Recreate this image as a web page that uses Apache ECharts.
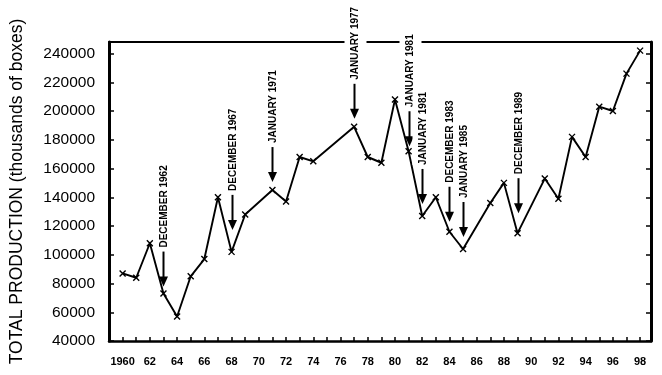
<!DOCTYPE html>
<html>
<head>
<meta charset="utf-8">
<script src="https://cdn.jsdelivr.net/npm/echarts@6/dist/echarts.min.js"></script>
<style>
  html, body { margin: 0; padding: 0; background: #fff; }
  #chart { width: 662px; height: 375px; }
</style>
</head>
<body>
<div id="chart"></div>
<script>
// ---- data ----
const years = [1960, 1961, 1962, 1963, 1964, 1965, 1966, 1967, 1968, 1969,
               1971, 1972, 1973, 1974,
               1977, 1978, 1979, 1980, 1981, 1982, 1983, 1984, 1985,
               1987, 1988, 1989,
               1991, 1992, 1993, 1994, 1995, 1996, 1997, 1998];
const production = [87000, 84000, 108000, 73000, 57000, 85000, 97000, 140000, 102000, 128000,
                    145000, 137000, 168000, 165000,
                    189000, 168000, 164000, 208000, 172000, 127000, 140000, 116000, 104000,
                    136000, 150000, 115000,
                    153000, 139000, 182000, 168000, 203000, 200000, 226000, 242000];
const annotTexts = ['DECEMBER 1962', 'DECEMBER 1967', 'JANUARY 1971', 'JANUARY 1977',
                    'JANUARY 1981', 'JANUARY 1981', 'DECEMBER 1983', 'JANUARY 1985', 'DECEMBER 1989'];
const annotYears = [1963, 1968, 1971, 1977, 1981, 1982, 1984, 1985, 1989];
const yAxisTitle = 'TOTAL PRODUCTION (thousands of boxes)';

// ---- layout (not data) ----
const annotGap = [7, 22, 8, 8, 5, 12, 10, 12, 20];
const FONT = '"Liberation Sans", Arial, Helvetica, sans-serif';

const chart = echarts.init(document.getElementById('chart'), null, { renderer: 'canvas' });

const yMin = 40000, yMax = 248000, yStep = 20000;
const xMin = 1959, xMax = 1998.8;

const option = {
  animation: false,
  backgroundColor: '#fff',
  textStyle: { fontFamily: FONT, color: '#000' },
  grid: { left: 107, right: 11, top: 42, bottom: 34, containLabel: false },
  xAxis: [
    {
      type: 'value', position: 'bottom', min: xMin, max: xMax, interval: 1,
      axisLine: { show: true, onZero: false, lineStyle: { color: '#000', width: 2.5 } },
      axisTick: { show: true, inside: true, length: 4, lineStyle: { color: '#000', width: 1.5 } },
      axisLabel: {
        margin: 15, fontSize: 11, fontWeight: 'bold', color: '#000', fontFamily: FONT,
        formatter: function (v) {
          if (Math.abs(v - Math.round(v)) > 1e-6) return '';
          v = Math.round(v);
          if (v % 2 !== 0) return '';
          return v === 1960 ? '1960' : String(v).slice(2);
        }
      },
      splitLine: { show: false }
    },
    {
      type: 'value', position: 'top', min: xMin, max: xMax,
      axisLine: { show: true, onZero: false, lineStyle: { color: '#000', width: 2 } },
      axisTick: { show: false }, axisLabel: { show: false }, splitLine: { show: false }
    }
  ],
  yAxis: [
    {
      type: 'value', position: 'left', min: yMin, max: yMax, interval: yStep,
      name: yAxisTitle, nameLocation: 'middle', nameGap: 83,
      nameTextStyle: { fontSize: 17.5, color: '#000', fontFamily: FONT },
      axisLine: { show: true, onZero: false, lineStyle: { color: '#000', width: 3 } },
      axisTick: { show: true, inside: true, length: 5, lineStyle: { color: '#000', width: 1.5 } },
      axisLabel: {
        margin: 14, fontSize: 15.5, color: '#000', fontFamily: FONT,
        formatter: function (v) { return (v % yStep === 0) ? String(v) : ''; }
      },
      splitLine: { show: false }
    },
    {
      type: 'value', position: 'right', min: yMin, max: yMax, interval: yStep,
      axisLine: { show: true, onZero: false, lineStyle: { color: '#000', width: 3 } },
      axisTick: { show: true, inside: true, length: 5, lineStyle: { color: '#000', width: 1.5 } },
      axisLabel: { show: false }, splitLine: { show: false }
    }
  ],
  series: [{
    type: 'line',
    xAxisIndex: 0, yAxisIndex: 0,
    data: years.map(function (y, i) { return [y, production[i]]; }),
    symbol: 'path://M0,0L10,10M10,0L0,10',
    symbolSize: 6,
    showSymbol: true,
    lineStyle: { color: '#000', width: 1.9 },
    itemStyle: { color: '#000', borderColor: '#000', borderWidth: 1.4 },
    z: 3
  }]
};

chart.setOption(option);

// ---- annotations (arrows + vertical text) anchored to data points ----
const ARROW_LEN = 35, HEAD_H = 10, HEAD_W = 9, TEXT_GAP = 4;
const elements = [];
annotYears.forEach(function (yr, i) {
  const idx = years.indexOf(yr);
  const p = chart.convertToPixel({ seriesIndex: 0 }, [yr, production[idx]]);
  const px = Math.round(p[0]) + 0.5;
  const tip = p[1] - annotGap[i];
  const top = tip - ARROW_LEN;
  elements.push({
    type: 'line', z: 50,
    shape: { x1: px, y1: top, x2: px, y2: tip - HEAD_H + 1 },
    style: { stroke: '#000', lineWidth: 2 }
  });
  elements.push({
    type: 'polygon', z: 50,
    shape: { points: [[px - HEAD_W / 2, tip - HEAD_H], [px + HEAD_W / 2, tip - HEAD_H], [px, tip]] },
    style: { fill: '#000' }
  });
  elements.push({
    type: 'text', z: 60,
    x: px + 1, y: top - TEXT_GAP,
    rotation: Math.PI / 2,
    style: {
      text: annotTexts[i],
      fill: '#000',
      font: 'bold 10px ' + FONT,
      align: 'left', verticalAlign: 'middle',
      textAlign: 'left', textVerticalAlign: 'middle',
      backgroundColor: '#fff',
      padding: [6, 0, 6, 0]
    }
  });
});
chart.setOption({ graphic: { elements: elements } });
</script>
</body>
</html>
